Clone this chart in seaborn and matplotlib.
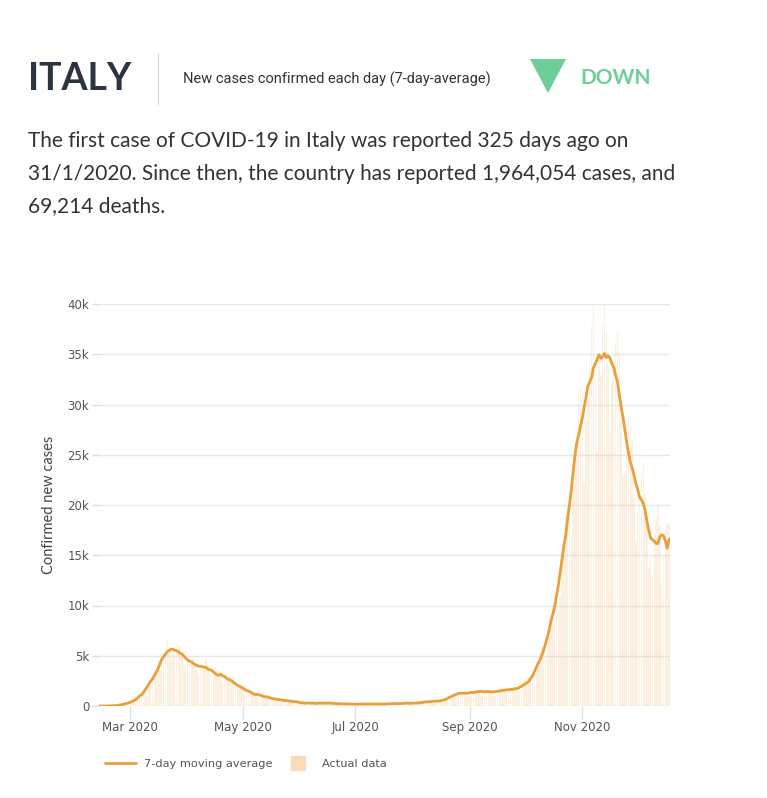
import numpy as np
import pandas as pd
import seaborn as sns
import matplotlib.pyplot as plt
import matplotlib.dates as mdates
from matplotlib.lines import Line2D
from matplotlib.patches import Polygon

# daily new confirmed cases in Italy, 10 Feb 2020 - 21 Dec 2020
feb = [0, 0, 0, 0, 0, 0, 0, 0, 0, 0, 0, 17, 62, 73, 77, 93, 78, 250, 238, 240]
mar = [566, 342, 466, 587, 769, 778, 1247, 1492, 1797, 977, 2313, 2651, 2547, 3497, 3590, 3233,
       3526, 4207, 5322, 5986, 6557, 5560, 4789, 5249, 5210, 6153, 5959, 5974, 5217, 4050, 4053]
apr = [4782, 4668, 4585, 4805, 4316, 3599, 3039, 3836, 4204, 3951, 4694, 4092, 3153, 2972, 2667,
       3786, 3493, 3491, 3047, 2256, 2729, 3370, 2646, 3021, 2357, 2324, 1739, 2091, 2086, 1872]
may = [1965, 1900, 1389, 1221, 1075, 1444, 1401, 1327, 1083, 802, 744, 1402, 888, 992, 789, 875,
       675, 451, 813, 665, 642, 652, 669, 531, 300, 397, 584, 593, 516, 416, 355]
jun = [178, 318, 321, 177, 518, 270, 197, 280, 283, 202, 379, 163, 346, 338, 301, 210, 329, 333,
       251, 262, 224, 218, 122, 190, 296, 259, 175, 174, 126, 142]
jul = [187, 201, 223, 235, 192, 208, 138, 193, 229, 276, 188, 234, 169, 114, 162, 230, 233, 249,
       219, 190, 129, 282, 306, 252, 275, 255, 170, 212, 289, 386, 379]
aug = [295, 239, 159, 190, 384, 402, 552, 347, 463, 259, 412, 481, 523, 574, 629, 479, 320, 403,
       642, 845, 947, 1071, 1210, 953, 878, 1367, 1411, 1462, 1444, 1365, 996]
sep = [978, 1326, 1397, 1733, 1695, 1297, 1108, 1370, 1434, 1597, 1616, 1501, 1458, 1008, 1229,
       1452, 1585, 1907, 1638, 1587, 1350, 1392, 1640, 1786, 1912, 1869, 1766, 1494, 1648, 1851]
oct = [2548, 2499, 2844, 2578, 2257, 2677, 3678, 4458, 5372, 5724, 5456, 4619, 5901, 7332, 8804,
       10010, 10925, 11705, 9338, 10874, 15199, 16079, 19143, 19644, 21273, 17012, 21994, 24991,
       26831, 31084, 31758]
nov = [29907, 22253, 28244, 30550, 34505, 37809, 39811, 32616, 25271, 35098, 32961, 37978, 40902,
       37255, 33979, 27354, 32191, 34283, 36176, 37242, 34767, 28337, 22930, 23232, 25853, 29003,
       28352, 26323, 20648, 16377]
dec = [19350, 20709, 23225, 24099, 21052, 18887, 13720, 14842, 12756, 16999, 18727, 19903, 17938,
       12030, 14844, 17572, 18236, 17992, 16308, 13000, 18300]

start_date = "2020-02-10"
tick_months = [3, 5, 7, 9, 11]
y_ticks = [0, 5000, 10000, 15000, 20000, 25000, 30000, 35000, 40000]
y_labels = ["0", "5k", "10k", "15k", "20k", "25k", "30k", "35k", "40k"]

daily = feb + mar + apr + may + jun + jul + aug + sep + oct + nov + dec
df = pd.DataFrame({"date": pd.date_range(start_date, periods=len(daily), freq="D"),
                   "cases": daily})
df["avg"] = df["cases"].rolling(7, center=True).mean()

ORANGE = "#e9a03b"
PEACH = "#f8d2a6"
GREEN = "#6dcf98"

sns.set_style("white")
plt.rcParams["font.family"] = ["Lato", "DejaVu Sans"]

fig = plt.figure(figsize=(7.67, 7.98), dpi=100)
W, H = 767, 798
ax = fig.add_axes([99 / W, 1 - 706 / H, 571 / W, 402 / H])

ax.bar(df["date"], df["cases"], width=0.8, color=PEACH, alpha=0.33, linewidth=0, zorder=1)
sns.lineplot(data=df.dropna(), x="date", y="avg", color=ORANGE, linewidth=2, ax=ax, zorder=3)

ax.set_xlim(pd.Timestamp("2020-02-13"), pd.Timestamp("2020-12-18 12:00"))
ax.set_ylim(0, 40000)
ax.set_yticks(y_ticks)
ax.set_yticklabels(y_labels, family="DejaVu Sans")
ax.xaxis.set_major_locator(mdates.MonthLocator(bymonth=tick_months))
ax.xaxis.set_major_formatter(mdates.DateFormatter("%b %Y"))
for lab in ax.get_xticklabels():
    lab.set_family("DejaVu Sans")
ax.tick_params(axis="y", length=5, width=1, color="#dddddd", labelcolor="#555555",
               labelsize=8.5, pad=2, left=True)
ax.tick_params(axis="x", length=9, width=1, color="#e2e2e2", labelcolor="#555555",
               labelsize=8.5, pad=2, bottom=True)
ax.grid(axis="y", color="#e8e8e8", linewidth=1, zorder=0)
ax.grid(axis="x", visible=False)
for s in ax.spines.values():
    s.set_visible(False)
ax.set_xlabel("")
ax.set_ylabel("Confirmed new cases", fontsize=10.5, color="#444444")
ax.yaxis.set_label_coords(-(99 - 56) / 571, 0.5)

handles = [Line2D([0], [0], color=ORANGE, lw=2),
           Line2D([0], [0], color="#fcdcb8", marker="s", markersize=10, linestyle="none")]
leg = fig.legend(handles, ["7-day moving average", "Actual data"], loc="center left",
                 bbox_to_anchor=(105 / W, 1 - 764 / H), ncol=2, frameon=False,
                 prop={"family": "DejaVu Sans", "size": 8.2}, handlelength=2.7,
                 columnspacing=0.9, handletextpad=0.75, borderpad=0, borderaxespad=0)
for t in leg.get_texts():
    t.set_color("#555555")

# header
fig.text(28 / W, 1 - 79 / H, "ITALY", fontsize=27, fontweight="bold", color="#2b3441",
         va="center", ha="left")
fig.add_artist(Line2D([158 / W, 158 / W], [1 - 53 / H, 1 - 104 / H], color="#dddddd",
                      lw=1, transform=fig.transFigure))
fig.text(183 / W, 1 - 79 / H, "New cases confirmed each day (7-day-average)", fontsize=10.5,
         color="#333333", va="center", ha="left", family="Roboto")
tri = np.array([[530, 59], [566, 59], [548, 93]], dtype=float)
tri[:, 0] /= W
tri[:, 1] = 1 - tri[:, 1] / H
fig.add_artist(Polygon(tri, closed=True, facecolor=GREEN, edgecolor="none",
                       transform=fig.transFigure))
fig.text(580 / W, 1 - 78 / H, "DOWN", fontsize=15, fontweight="bold", color=GREEN,
         va="center", ha="left")

lines = ["The first case of COVID-19 in Italy was reported 325 days ago on",
         "31/1/2020. Since then, the country has reported 1,964,054 cases, and",
         "69,214 deaths."]
for i, txt in enumerate(lines):
    fig.text(28 / W, 1 - (141 + 32.5 * i) / H, txt, fontsize=15, color="#333333",
             va="center", ha="left")

fig.savefig("out.png", dpi=100)
